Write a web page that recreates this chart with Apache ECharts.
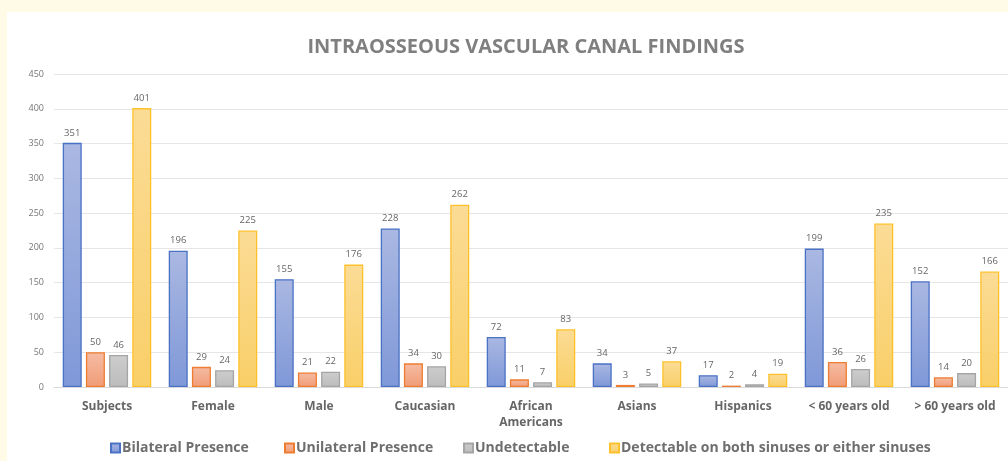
<!DOCTYPE html>
<html><head><meta charset="utf-8">
<script src="https://cdn.jsdelivr.net/npm/echarts@6/dist/echarts.min.js"></script>
<style>html,body{margin:0;padding:0;background:#fffbe6;}#c{width:1008px;height:461px;}</style>
</head><body><div id="c"></div>
<script>
const categories = ['Subjects','Female','Male','Caucasian','African\nAmericans','Asians','Hispanics','< 60 years old','> 60 years old'];
const seriesNames = ['Bilateral Presence','Unilateral Presence','Undetectable','Detectable on both sinuses or either sinuses'];
const bilateral = [351,196,155,228,72,34,17,199,152];
const unilateral = [50,29,21,34,11,3,2,36,14];
const undetectable = [46,24,22,30,7,5,4,26,20];
const detectable = [401,225,176,262,83,37,19,235,166];
const yTicks = [0,50,100,150,200,250,300,350,400,450];

function grad(top, bottom){
  return new echarts.graphic.LinearGradient(0,0,0,1,[{offset:0,color:top},{offset:1,color:bottom}]);
}
const labelStyle = {show:true, position:'top', distance:5, fontSize:9.5, color:'#666666', fontFamily:'Open Sans'};
function mk(name, data, top, bottom, border){
  return {name, type:'bar', data, barWidth:19, barGap:'22%',
    itemStyle:{color:grad(top,bottom), borderColor:border, borderWidth:1.3},
    label:labelStyle};
}
const legendLefts = [110, 284, 463, 609];
const legends = seriesNames.map((n,i)=>({
  left:legendLefts[i], top:441, itemWidth:9, itemHeight:9, icon:'rect', padding:0,
  textStyle:{fontFamily:'Open Sans', fontWeight:'bold', fontSize:14, color:'#6e6e6e', padding:[0,0,0,-3]},
  data:[n]
}));
const chart = echarts.init(document.getElementById('c'));
chart.setOption({
  backgroundColor:'#fffbe6',
  animation:false,
  graphic:[{type:'rect', shape:{x:7,y:12,width:1001,height:449}, style:{fill:'#ffffff'}, z:-10}],
  title:{text:'INTRAOSSEOUS VASCULAR CANAL FINDINGS', left:521, textAlign:'center', top:32,
    textStyle:{fontFamily:'Open Sans', fontWeight:'bold', fontSize:20, color:'#7f7f7f'}},
  grid:{left:54, top:74, bottom:74, width:957},
  xAxis:{type:'category', data:categories,
    axisLine:{lineStyle:{color:'#d9d9d9'}}, axisTick:{show:false},
    axisLabel:{fontFamily:'Open Sans', fontWeight:'bold', fontSize:12, color:'#666666', margin:12, lineHeight:16, interval:0}},
  yAxis:{type:'value', min:0, max:450, interval:50,
    axisLine:{show:false}, axisTick:{show:false},
    splitLine:{lineStyle:{color:'#e6e6e6', width:1}},
    axisLabel:{fontFamily:'Open Sans', fontSize:9, color:'#767676', margin:10,
      formatter:v=>yTicks.includes(v)?String(v):''}},
  legend:legends,
  series:[
    mk(seriesNames[0], bilateral, '#aab8e2', '#7f98d8', '#4a72c4'),
    mk(seriesNames[1], unilateral, '#f5bca4', '#f19c76', '#ee7d31'),
    mk(seriesNames[2], undetectable, '#cdcdcd', '#bcbcbc', '#a5a5a5'),
    mk(seriesNames[3], detectable, '#fbdc96', '#f9cf68', '#fec12c')
  ]
});
</script></body></html>
